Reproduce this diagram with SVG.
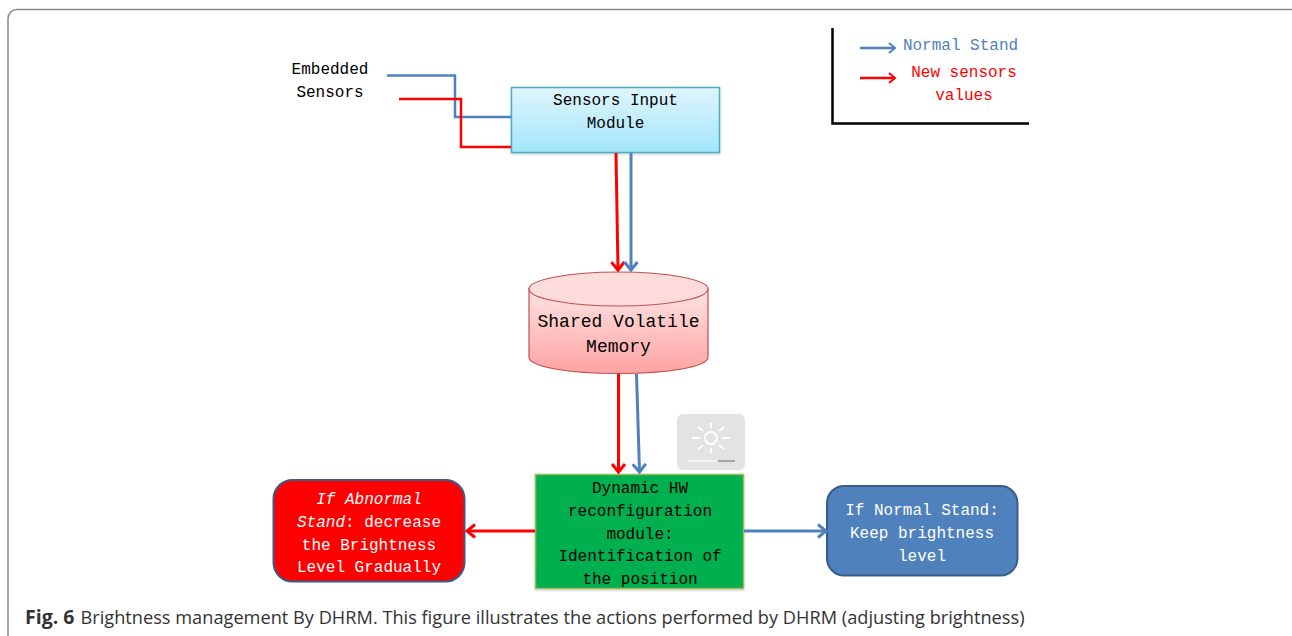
<svg xmlns="http://www.w3.org/2000/svg" width="1292" height="636" viewBox="0 0 1292 636">
<style>
text{font-family:"Liberation Mono",monospace;font-size:16px;text-anchor:middle;fill:#000}
.w{fill:#fff}
.b{stroke:#4f81bd;fill:none;stroke-width:3}
.r{stroke:#f00;fill:none;stroke-width:3}
.t{stroke-width:2.500}
.cap{font-family:"Open Sans",sans-serif;font-size:18.200px;text-anchor:start;fill:#333}
</style>
<defs>
<linearGradient id="gb" x1="0" y1="0" x2="0" y2="1"><stop offset="0" stop-color="#dff5fd"/><stop offset="1" stop-color="#a3e6fb"/></linearGradient>
<linearGradient id="gr" x1="0" y1="0" x2="0" y2="1"><stop offset="0" stop-color="#ffe3e3"/><stop offset="1" stop-color="#ffa3a3"/></linearGradient>
<filter id="sh" x="-5%" y="-5%" width="110%" height="115%"><feDropShadow dx="0" dy="1" stdDeviation="1" flood-color="#000" flood-opacity="0.250"/></filter>
<marker id="ab" markerUnits="userSpaceOnUse" markerWidth="18" markerHeight="18" refX="13" refY="8" orient="auto"><path d="M5 1.500L13 8L5 14.500" fill="none" stroke="#4f81bd" stroke-width="3"/></marker>
<marker id="ar" markerUnits="userSpaceOnUse" markerWidth="18" markerHeight="18" refX="13" refY="8" orient="auto"><path d="M5 1.500L13 8L5 14.500" fill="none" stroke="#f00" stroke-width="3"/></marker>
<marker id="lb" markerUnits="userSpaceOnUse" markerWidth="14" markerHeight="14" refX="10" refY="6" orient="auto"><path d="M4 1L10 6L4 11" fill="none" stroke="#4f81bd" stroke-width="2"/></marker>
<marker id="lr" markerUnits="userSpaceOnUse" markerWidth="14" markerHeight="14" refX="10" refY="6" orient="auto"><path d="M4 1L10 6L4 11" fill="none" stroke="#f00" stroke-width="2"/></marker>
</defs>
<rect width="1292" height="636" fill="#fff"/>
<rect id="frame" x="8" y="9.500" width="1300" height="660" rx="9" fill="none" stroke="#8a8a8a" stroke-width="1.500"/>
<g id="sensors-label"><text x="330" y="74">Embedded</text><text x="330" y="97">Sensors</text></g>
<g id="sensors-input">
<rect x="511.500" y="87.500" width="208" height="65" fill="url(#gb)" stroke="#4bacc6" stroke-width="1.500" filter="url(#sh)"/>
<text x="615.500" y="105">Sensors Input</text><text x="615.500" y="128">Module</text>
</g>
<g id="memory">
<path d="M529 289V357C529 367 569 373.500 618.500 373.500S708 367 708 357V289Z" fill="url(#gr)" stroke="#c0504d" stroke-width="1.200"/>
<ellipse cx="618.500" cy="289" rx="89.500" ry="17" fill="#ffdcdc" stroke="#c0504d" stroke-width="1.200"/>
<text x="618.500" y="327" style="font-size:18px">Shared Volatile</text><text x="618.500" y="352" style="font-size:18px">Memory</text>
</g>
<g id="sun">
<rect x="677" y="414" width="68" height="56" rx="6" fill="#e3e3e3"/>
<circle cx="711" cy="438" r="6" fill="none" stroke="#fff" stroke-width="2"/>
<path d="M711 423V428M711 448V453M692 438H700M722 438H730M698 427L703 431M724 427L719 431M698 449L703 445M724 449L719 445" stroke="#fff" stroke-width="2"/>
<path d="M688 461H717" stroke="#f4f4f4" stroke-width="2"/><path d="M718 461H735" stroke="#a8a8a8" stroke-width="2"/>
</g>
<g id="dhrm">
<rect x="535.500" y="474.500" width="208" height="114" fill="#00b050" stroke="#9bbb59" stroke-width="1.500" filter="url(#sh)"/>
<text x="640" y="493">Dynamic HW</text><text x="640" y="516">reconfiguration</text><text x="640" y="539">module:</text><text x="640" y="561">Identification of</text><text x="640" y="584">the position</text>
</g>
<g id="abnormal">
<rect x="273.500" y="480" width="191" height="101.500" rx="19" fill="#f00" stroke="#385d8a" stroke-width="2"/>
<text class="w" x="369" y="504" font-style="italic">If Abnormal</text>
<text class="w" x="369" y="527"><tspan font-style="italic">Stand</tspan>: decrease</text>
<text class="w" x="369" y="550">the Brightness</text>
<text class="w" x="369" y="572">Level Gradually</text>
</g>
<g id="normal">
<rect x="827" y="486" width="190.500" height="89.500" rx="17" fill="#4f81bd" stroke="#385d8a" stroke-width="2"/>
<text class="w" x="922" y="515">If Normal Stand:</text><text class="w" x="922" y="538">Keep brightness</text><text class="w" x="922" y="561">level</text>
</g>
<g id="legend">
<path d="M832.500 28V123.500H1029" fill="none" stroke="#000" stroke-width="2.500"/>
<text x="960.500" y="50" style="fill:#4f81bd">Normal Stand</text>
<text x="964" y="77" style="fill:#f00">New sensors</text><text x="964" y="100" style="fill:#f00">values</text>
</g>
<g id="connectors">
<path class="b t" d="M387 75.500H455V117H511"/>
<path class="r t" d="M399 99H461V147H511"/>
<path class="r" d="M616 153L618 270" marker-end="url(#ar)"/>
<path class="b" d="M631 153V270" marker-end="url(#ab)"/>
<path class="r" d="M618.500 374V472" marker-end="url(#ar)"/>
<path class="b" d="M636.500 374L639.500 472" marker-end="url(#ab)"/>
<path class="r" d="M535 531H467" marker-end="url(#ar)"/>
<path class="b" d="M744 531H826" marker-end="url(#ab)"/>
<path class="b t" d="M860 48H895" marker-end="url(#lb)"/>
<path class="r t" d="M860 78H895" marker-end="url(#lr)"/>
</g>
<text id="caption" class="cap" x="25" y="624"><tspan font-weight="700" style="font-size:19.500px">Fig. 6</tspan></text>
<text class="cap" x="80.500" y="624" textLength="944">Brightness management By DHRM. This figure illustrates the actions performed by DHRM (adjusting brightness)</text>
</svg>
